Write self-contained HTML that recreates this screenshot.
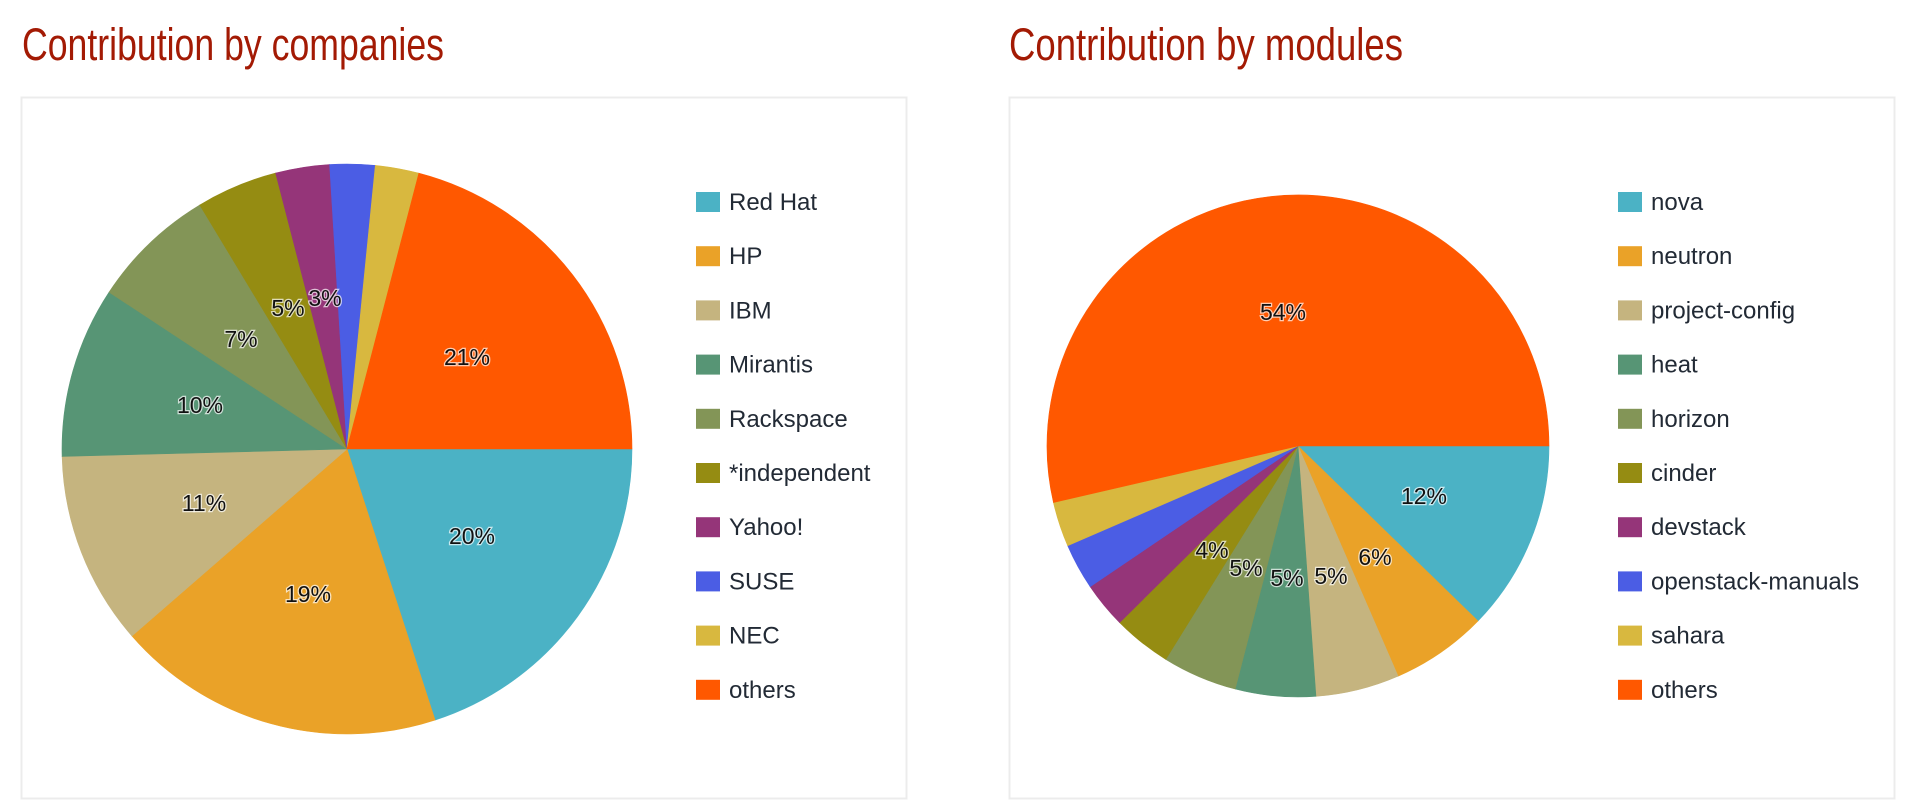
<!DOCTYPE html>
<html><head><meta charset="utf-8"><style>
html,body{margin:0;padding:0;background:#fff;width:1918px;height:812px;overflow:hidden}
svg{display:block}
.t{font-family:"Liberation Sans Narrow","Liberation Sans",sans-serif;font-size:45px;fill:#a31a04}
.lg{font-family:"Liberation Sans","DejaVu Sans",sans-serif;font-size:24px;fill:#222a35}
.pl{font-family:"Liberation Sans","DejaVu Sans",sans-serif;font-size:23px;fill:#111;text-anchor:middle;dominant-baseline:central;paint-order:stroke;stroke:#fff;stroke-width:2.5px;stroke-opacity:.7}
</style></head><body>
<svg id="s" width="1918" height="812" xmlns="http://www.w3.org/2000/svg">
<text class="t" x="22" y="60" textLength="422" lengthAdjust="spacingAndGlyphs">Contribution by companies</text>
<text class="t" x="1009" y="60" textLength="394" lengthAdjust="spacingAndGlyphs">Contribution by modules</text>
<rect x="21.5" y="97.5" width="885" height="701" fill="#fff" stroke="#ececec" stroke-width="2"/>
<rect x="1009.5" y="97.5" width="885" height="701" fill="#fff" stroke="#ececec" stroke-width="2"/>
<g id="p1"></g><g id="p2"></g>
</svg>
<script>
var C=["#4bb2c5","#eaa228","#c5b47f","#579575","#839557","#958c12","#953579","#4b5de4","#d8b83f","#ff5800"];
var NS="http://www.w3.org/2000/svg";
function pie(g,cx,cy,r,b){
 var el=document.getElementById(g);
 for(var i=0;i<b.length-1;i++){
  var a0=b[i]*Math.PI/180,a1=b[i+1]*Math.PI/180;
  var x0=cx+r*Math.cos(a0),y0=cy+r*Math.sin(a0),x1=cx+r*Math.cos(a1),y1=cy+r*Math.sin(a1);
  var p=document.createElementNS(NS,"path");
  p.setAttribute("d","M"+cx+","+cy+"L"+x0+","+y0+"A"+r+","+r+" 0 "+((b[i+1]-b[i])>180?1:0)+" 1 "+x1+","+y1+"Z");
  p.setAttribute("fill",C[i]);p.setAttribute("stroke",C[i]);p.setAttribute("stroke-width","0.6");
  el.appendChild(p);
 }
}
function leg(x,y0,names){
 var s=document.getElementById("s");
 names.forEach(function(n,i){
  var y=y0+i*54.2;
  var r=document.createElementNS(NS,"rect");
  r.setAttribute("x",x);r.setAttribute("y",y);r.setAttribute("width",24);r.setAttribute("height",20);r.setAttribute("fill",C[i]);
  s.appendChild(r);
  var t=document.createElementNS(NS,"text");
  t.setAttribute("class","lg");t.setAttribute("x",x+33);t.setAttribute("y",y+18);t.textContent=n;
  s.appendChild(t);
 });
}
function labs(arr){
 var s=document.getElementById("s");
 arr.forEach(function(a){
  var t=document.createElementNS(NS,"text");
  t.setAttribute("class","pl");t.setAttribute("x",a[1]);t.setAttribute("y",a[2]);t.textContent=a[0];
  s.appendChild(t);
 });
}
pie("p1",347,449,285,[0,72,139,178.5,213.4,238.9,255.5,266.5,275.7,284.6,360]);
pie("p2",1298,446,251,[0,44.2,66.5,85.9,104.5,121.8,135.3,145.9,156.6,167,360]);
leg(696,192,["Red Hat","HP","IBM","Mirantis","Rackspace","*independent","Yahoo!","SUSE","NEC","others"]);
leg(1618,192,["nova","neutron","project-config","heat","horizon","cinder","devstack","openstack-manuals","sahara","others"]);
labs([["21%",467,357],["20%",472,536],["19%",308,594],["11%",204,503],["10%",200,405],["7%",241,339],["5%",288,308],["3%",325,298],
["54%",1283,312],["12%",1424,496],["6%",1375,557],["5%",1331,576],["5%",1287,578],["5%",1246,568],["4%",1212,550]]);
</script>
</body></html>
